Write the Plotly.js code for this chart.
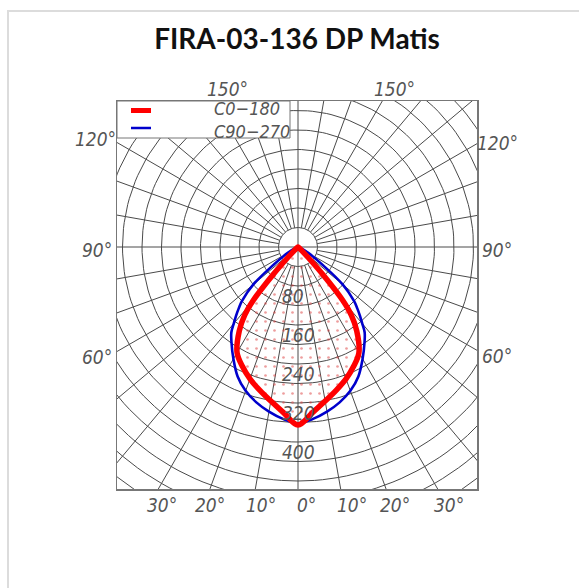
<!DOCTYPE html>
<html><head><meta charset="utf-8">
<script src="https://cdn.plot.ly/plotly-3.0.1.min.js"></script>
<style>
html,body{margin:0;padding:0;width:579px;height:588px;overflow:hidden;background:#fff;}
#card{position:absolute;left:7px;top:10px;width:800px;height:800px;border:2px solid #dcdcdc;box-sizing:border-box;}
#chart{position:absolute;left:0;top:0;width:579px;height:588px;}
</style></head><body>
<div id="card"></div><div id="chart"></div>
<script>
// ---- data ----
const gammaAngles      = [0, 5, 10, 15, 20, 25, 30, 35, 38, 40, 42, 44, 46, 50, 60, 70, 80, 90];
const intensityC0_180  = [365, 341, 321, 304, 288, 270, 250, 210, 178, 142, 78, 30, 12, 4, 1, 0, 0, 0];
const intensityC90_270 = [362, 354, 343, 330, 314, 293, 265, 238, 222, 205, 190, 175, 160, 120, 25, 5, 0, 0];
const ringValues       = [40, 80, 120, 160, 200, 240, 280, 320, 360, 400, 440, 480, 520, 560, 600, 640, 680];
const ringLabelValues  = [80, 160, 240, 320, 400];
const radialAngles     = [0,10,20,30,40,50,60,70,80,90,100,110,120,130,140,150,160,170,180,190,200,210,220,230,240,250,260,270,280,290,300,310,320,330,340,350];
const angleLabels      = ["150°","150°","120°","90°","60°","120°","90°","60°","30°","20°","10°","0°","10°","20°","30°"];
const seriesNames      = ["C0−180","C90−270"];
const titleText        = "FIRA-03-136 DP Matis";

// ---- layout geometry (pixels of the plot box) ----
const box = {l:117, r:477, t:101, b:489};
const W = 579, H = 588;
const pxPerUnit = 0.4875;
const cx = 298, cy = 247;
const xr = [(box.l-cx)/pxPerUnit, (box.r-cx)/pxPerUnit];
const yr = [(cy-box.b)/pxPerUnit, (cy-box.t)/pxPerUnit];
const px2paperX = px => (px-box.l)/(box.r-box.l);
const px2paperY = py => (box.b-py)/(box.b-box.t);
const angleLabelPos = [[227,89],[394,89],[95,139],[97,250],[97,357],[497,143],[497,250],[497,356],
                       [162,505],[210,505],[261,505],[306,505],[352,505],[395,505],[449,505]];

const rad = d => d*Math.PI/180;
function polarToXY(angles, vals){
  const pts=[];
  for(let i=angles.length-1;i>=0;i--) pts.push([-vals[i]*Math.sin(rad(angles[i])), -vals[i]*Math.cos(rad(angles[i]))]);
  for(let i=1;i<angles.length;i++) pts.push([vals[i]*Math.sin(rad(angles[i])), -vals[i]*Math.cos(rad(angles[i]))]);
  const x=[], y=[];
  pts.forEach((p,k)=>{
    if(k>0 && Math.hypot(p[0]-x[x.length-1], p[1]-y[y.length-1])<0.5) return; // drop repeated origin points
    x.push(p[0]); y.push(p[1]);
  });
  return {x,y};
}

// grid
const gx=[], gy=[];
ringValues.forEach(r=>{
  for(let a=0;a<=360;a+=2){ gx.push(r*Math.sin(rad(a))); gy.push(-r*Math.cos(rad(a))); }
  gx.push(null); gy.push(null);
});
radialAngles.forEach(a=>{
  const r0 = (a%90===0) ? 0 : ringValues[0];
  gx.push(r0*Math.sin(rad(a)), 1000*Math.sin(rad(a)), null);
  gy.push(-r0*Math.cos(rad(a)), -1000*Math.cos(rad(a)), null);
});

const red = polarToXY(gammaAngles, intensityC0_180);
const blue = polarToXY(gammaAngles, intensityC90_270);

const labelFont = {family:"'Liberation Sans Narrow','DejaVu Sans Condensed','Liberation Sans',sans-serif", size:19, color:'#555', style:'italic'};
const legendFont = Object.assign({}, labelFont, {size:18});

const traces = [
  {x:gx, y:gy, mode:'lines', line:{color:'#4a4a4a', width:1}, hoverinfo:'skip', showlegend:false},
  {x:red.x, y:red.y, mode:'none', fill:'toself', fillcolor:'rgba(0,0,0,0)',
   fillpattern:{shape:'.', fgcolor:'rgba(220,60,60,0.5)', bgcolor:'rgba(255,255,255,0)', size:9, solidity:0.07},
   hoverinfo:'skip', showlegend:false},
  {x:blue.x, y:blue.y, mode:'lines', name:seriesNames[1], line:{color:'#0000cc', width:2.6, shape:'spline', smoothing:1}, showlegend:false},
  {x:red.x, y:red.y, mode:'lines', name:seriesNames[0], line:{color:'#ff0000', width:5.5, shape:'spline', smoothing:1}, showlegend:false}
];

const annotations = [];
ringLabelValues.forEach(v=>{
  annotations.push({x:-37, y:-v, xref:'x', yref:'y', text:String(v), showarrow:false, xanchor:'left', yanchor:'top', yshift:3, font:labelFont});
});
angleLabels.forEach((t,i)=>{
  annotations.push({x:px2paperX(angleLabelPos[i][0]), y:px2paperY(angleLabelPos[i][1]), xref:'paper', yref:'paper', text:t, showarrow:false, xanchor:'center', yanchor:'middle', font:labelFont});
});
seriesNames.forEach((n,i)=>{
  annotations.push({x:px2paperX(213), y:px2paperY(119.5), xref:'paper', yref:'paper', text:n, showarrow:false, xanchor:'left', yanchor:(i===0?'bottom':'top'), borderpad:0, font:legendFont});
});

const shapes = [
  {type:'rect', xref:'paper', yref:'paper', x0:0, x1:px2paperX(290), y0:px2paperY(138), y1:1, fillcolor:'#fff', line:{color:'#777', width:1}, layer:'above'},
  {type:'line', xref:'paper', yref:'paper', x0:px2paperX(131), x1:px2paperX(151), y0:px2paperY(110.5), y1:px2paperY(110.5), line:{color:'#ff0000', width:5}, layer:'above'},
  {type:'line', xref:'paper', yref:'paper', x0:px2paperX(131), x1:px2paperX(151), y0:px2paperY(128), y1:px2paperY(128), line:{color:'#0000cc', width:2.5}, layer:'above'}
];

const layout = {
  width:W, height:H,
  margin:{l:box.l, r:W-box.r, t:box.t, b:H-box.b, pad:0},
  paper_bgcolor:'rgba(0,0,0,0)', plot_bgcolor:'#fff',
  title:{text:titleText, font:{family:'Lato, "Open Sans", sans-serif', size:28, color:'#111', weight:700},
         xref:'container', yref:'container', x:297/W, xanchor:'center', y:1-39/H, yanchor:'middle'},
  xaxis:{range:xr, showgrid:false, zeroline:false, showticklabels:false, ticks:'', showline:true, mirror:true, linecolor:'#777', linewidth:1.5, fixedrange:true},
  yaxis:{range:yr, showgrid:false, zeroline:false, showticklabels:false, ticks:'', showline:true, mirror:true, linecolor:'#777', linewidth:1.5, fixedrange:true},
  showlegend:false, annotations, shapes, hovermode:false
};
Plotly.newPlot('chart', traces, layout, {displayModeBar:false, staticPlot:true});
</script>
</body></html>
